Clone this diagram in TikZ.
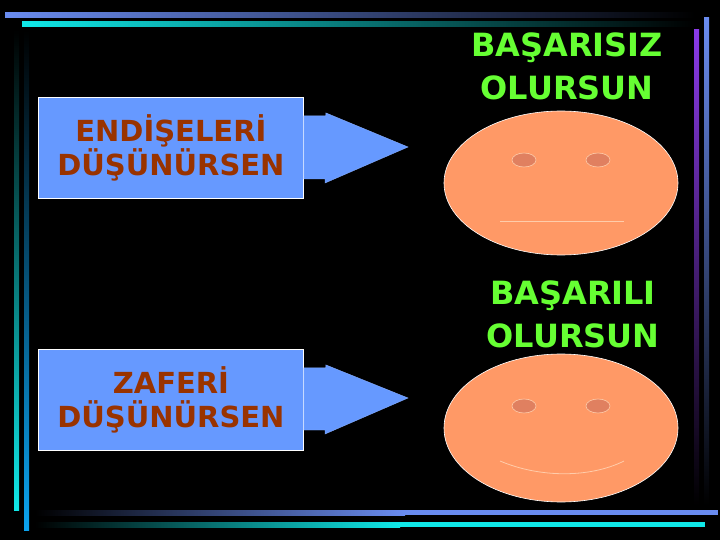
\documentclass[tikz,border=0pt]{standalone}
\usepackage{fontspec}
\setmainfont{DejaVu Sans}
\begin{document}
\begin{tikzpicture}[x=1pt,y=-1pt,
  box/.style={draw=white,line width=0.8pt,fill=boxblue,minimum width=265pt,minimum height=101pt,inner sep=0pt,anchor=north west,align=center,text=txtred,font=\bfseries\fontsize{29}{34}\selectfont},
  ans/.style={text=txtgreen,align=center,font=\bfseries\fontsize{32}{43}\selectfont},
  face/.style={draw=white,line width=0.6pt,fill=faceor,ellipse},
  eye/.style={draw=eyeline,line width=0.6pt,fill=eyefill},
  arr/.style={draw=boxblue!80!white,fill=boxblue}]
\definecolor{boxblue}{HTML}{6699FF}
\definecolor{txtred}{HTML}{993300}
\definecolor{txtgreen}{HTML}{66FF33}
\definecolor{faceor}{HTML}{FF9966}
\definecolor{eyefill}{HTML}{E08060}
\definecolor{eyeline}{HTML}{FFCCAA}
\definecolor{barblue}{HTML}{6A8CF0}
\definecolor{barcyan}{HTML}{10E8E8}
\definecolor{barpurp}{HTML}{8A3AE8}
\fill[black] (0,0) rectangle (720,540);
\useasboundingbox (0,0) rectangle (720,540);
% frame bars
\shade[left color=barblue,right color=black] (5,13) rectangle (695,18);
\shade[left color=barcyan,right color=black] (22,22) rectangle (695,27);
\shade[top color=black,bottom color=barcyan] (14,30) rectangle (19,510);
\shade[top color=black,bottom color=barcyan!70!blue] (24,30) rectangle (29,530);
\shade[top color=barpurp,bottom color=black] (694,30) rectangle (699,505);
\shade[top color=barblue,bottom color=black] (704,18) rectangle (709,505);
\shade[left color=black,right color=barblue] (35,510) rectangle (405,515);
\fill[barblue] (405,510) rectangle (718,515);
\shade[left color=black,right color=barcyan] (35,522) rectangle (400,527);
\fill[barcyan] (400,522) rectangle (705,527);
% boxes
\node[box] (b1) at (38,97) {ENDİŞELERİ\\DÜŞÜNÜRSEN};
\node[box] (b2) at (38,349) {ZAFERİ\\DÜŞÜNÜRSEN};
% arrows
\filldraw[arr] (b1.east) ++(0,-32) -- ++(22,0) -- ++(0,-3) -- (408,147) -- (325,183) -- (325,179) -- (b1.east|-0,179) -- cycle;
\filldraw[arr] (b2.east) ++(0,-32) -- ++(22,0) -- ++(0,-3) -- (408,398) -- (325,434) -- (325,430) -- (b2.east|-0,430) -- cycle;
% answers
\node[ans] (t1) at (567,66) {BAŞARISIZ\\OLURSUN};
\node[ans] (t2) at (573,314) {BAŞARILI\\OLURSUN};
% faces
\fill[faceor,draw=white,line width=0.6pt] (561,183) ellipse [x radius=117,y radius=72];
\fill[faceor,draw=white,line width=0.6pt] (561,428) ellipse [x radius=117,y radius=74];
\filldraw[eye] (524,160) ellipse [x radius=12,y radius=7];
\filldraw[eye] (598,160) ellipse [x radius=12,y radius=7];
\filldraw[eye] (524,406) ellipse [x radius=12,y radius=7];
\filldraw[eye] (598,406) ellipse [x radius=12,y radius=7];
\draw[eyeline,line width=0.8pt] (500,221) -- (624,221);
\draw[eyeline,line width=0.8pt] (500,461) .. controls (540,478) and (590,478) .. (624,461);
\end{tikzpicture}
\end{document}
